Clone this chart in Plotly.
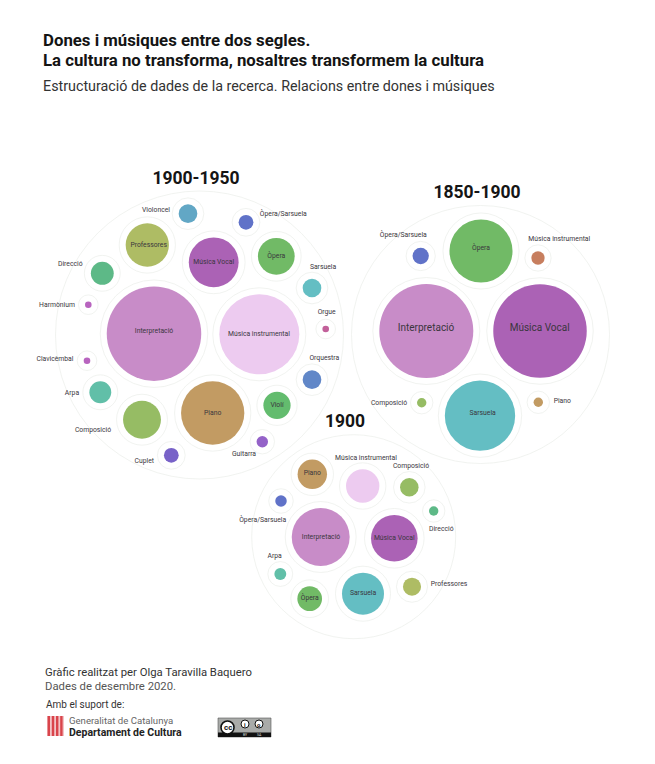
import plotly.graph_objects as go

FONT = "Roboto"

# ---- 1900-1950 ----
a_names = ["Interpretació", "Música instrumental", "Piano", "Música Vocal", "Professores", "Òpera", "Violí",
           "Composició", "Arpa", "Direcció", "Violoncel", "Òpera/Sarsuela", "Sarsuela", "Orgue", "Orquestra",
           "Guitarra", "Cuplet", "Harmònium", "Clavicèmbal"]
a_values = [205, 147, 92, 57, 43, 31, 17, 33, 11, 12, 8, 5, 8, 1, 8, 3, 5, 1, 1]
a_x = [154, 259.3, 212.7, 213.7, 147.3, 276.3, 277, 142, 100.3, 102.3, 188, 246, 312, 325.7, 312, 262.3, 171.3, 88.3, 87]
a_y = [333.7, 334.3, 413, 262.3, 245, 256.3, 405.3, 419.7, 392.3, 273.3, 213.7, 222.3, 288, 329, 379.7, 441.7, 455.3, 304.7, 360.7]
a_colors = ["#C88CC8", "#EDCBF0", "#C29B63", "#AB62B5", "#AEBC64", "#71BA66", "#63BC6E", "#96BC64", "#61BFA8",
            "#5DB987", "#62A7C5", "#6072C8", "#64BEC3", "#C2609A", "#6187C8", "#9462C8", "#7862C8", "#B864BF", "#B864BF"]
a_lx = [154, 259, 212.7, 213.7, 148.7, 276.3, 277, 93, 72, 70.3, 156, 283.3, 323, 326.7, 324.3, 244, 144.3, 57, 55]
a_ly = [331.7, 334.3, 413, 262, 245.7, 256, 405, 430, 393.3, 264.3, 210.3, 214.3, 267.3, 312.3, 358.7, 454.7, 461.7, 305.7, 359]

# ---- 1850-1900 ----
b_names = ["Interpretació", "Música Vocal", "Òpera", "Sarsuela", "Òpera/Sarsuela", "Música instrumental", "Composició", "Piano"]
b_values = [100, 99, 45, 56, 3, 2, 1, 1]
b_x = [426.3, 540, 481, 480, 420.7, 538, 421.7, 538.3]
b_y = [331, 331, 251, 415.7, 256, 258, 402.7, 402.3]
b_colors = ["#C88CC8", "#AB62B5", "#71BA66", "#64BEC3", "#6072C8", "#C77E5E", "#96BC64", "#C29B63"]
b_lx = [426, 539.7, 481, 482.7, 403.3, 559.3, 389, 562.3]
b_ly = [328.3, 328.3, 248.3, 413.3, 235.7, 239, 403, 401]
b_fonts = [10, 10, 6.8, 6.8, 6.8, 6.8, 6.8, 6.8]

# ---- 1900 ----
c_names = ["Interpretació", "Música Vocal", "Sarsuela", "Música instrumental", "Piano", "Composició", "Direcció",
           "Professores", "Òpera", "Arpa", "Òpera/Sarsuela"]
c_values = [38, 24.6, 20, 12.6, 9.8, 3.9, 1, 3.7, 6.9, 1.6, 1.5]
c_x = [320.7, 394.3, 363, 362.7, 312.3, 409.3, 433.7, 412, 309.7, 280.3, 281]
c_y = [537, 538.3, 593.7, 486, 474.3, 487.3, 511, 586.7, 598.7, 574, 501]
c_colors = ["#C88CC8", "#AB62B5", "#64BEC3", "#EDCBF0", "#C29B63", "#96BC64", "#5DB987", "#AEBC64", "#71BA66", "#61BFA8", "#6072C8"]
c_lx = [321, 394.3, 363, 366, 312.3, 411, 441.3, 449, 309.7, 274.7, 262.7]
c_ly = [537, 538, 593, 458, 473.7, 466.7, 529.3, 584.3, 598.3, 556.3, 520.3]

# Enclosing circles and panel headings
panel_titles = ["1900-1950", "1850-1900", "1900"]
panel_tx = [196, 477, 345]
panel_ty = [180, 194, 423]
panel_cx = [199.5, 480.5, 353.7]
panel_cy = [335, 334.5, 536.7]
panel_r = [144, 129, 102]
unit_radius = [3.3, 4.7, 4.7]

# Header / footer text
header_lines = ["Dones i músiques entre dos segles.", "La cultura no transforma, nosaltres transformem la cultura",
                "Estructuració de dades de la recerca. Relacions entre dones i músiques"]
footer_lines = ["Gràfic realitzat per Olga Taravilla Baquero", "Dades de desembre 2020.", "Amb el suport de:"]
logo_lines = ["Generalitat de Catalunya", "Departament de Cultura"]

HALO = 6.5
RING = "rgba(232,235,230,0.6)"

fig = go.Figure()

# enclosing circles
fig.add_trace(go.Scatter(
    x=panel_cx, y=panel_cy, mode="markers", hoverinfo="skip", cliponaxis=False,
    marker=dict(symbol="circle", size=[2 * r for r in panel_r], sizemode="diameter", opacity=1,
                color="rgba(255,255,255,0)", line=dict(color=RING, width=1))))


def add_panel(names, values, xs, ys, colors, lxs, lys, unit, fonts=None):
    diam = [2 * unit * v ** 0.5 for v in values]
    fig.add_trace(go.Scatter(
        x=xs, y=ys, mode="markers", hoverinfo="skip", cliponaxis=False,
        marker=dict(size=[d + 2 * HALO for d in diam], sizemode="diameter", opacity=1,
                    color="rgba(255,255,255,0)", line=dict(color=RING, width=1))))
    fig.add_trace(go.Scatter(
        x=xs, y=ys, mode="markers", text=names, hoverinfo="text", cliponaxis=False,
        marker=dict(size=diam, sizemode="diameter", color=colors, opacity=1, line=dict(width=0))))
    fig.add_trace(go.Scatter(
        x=lxs, y=lys, mode="text", text=names, textposition="middle center", hoverinfo="skip", cliponaxis=False,
        textfont=dict(family=FONT, size=fonts or 6.8, color="#3a363d")))


add_panel(a_names, a_values, a_x, a_y, a_colors, a_lx, a_ly, unit_radius[0])
add_panel(b_names, b_values, b_x, b_y, b_colors, b_lx, b_ly, unit_radius[1], b_fonts)
add_panel(c_names, c_values, c_x, c_y, c_colors, c_lx, c_ly, unit_radius[2])

fig.add_trace(go.Scatter(
    x=panel_tx, y=panel_ty, mode="text", text=panel_titles, textposition="middle center", hoverinfo="skip",
    cliponaxis=False, textfont=dict(family=FONT, size=17.5, color="#151515", weight=700)))

# Generalitat emblem (decorative logo)
shapes = [dict(type="rect", xref="x", yref="y", x0=47, x1=64, y0=716, y1=736,
               fillcolor="#F3C4C6", line_width=0)]
for i in range(4):
    shapes.append(dict(type="rect", xref="x", yref="y", x0=47.6 + i * 4.2, x1=50 + i * 4.2, y0=716, y1=736,
                       fillcolor="#D9444B", line_width=0))
# Creative Commons badge
shapes += [
    dict(type="rect", xref="x", yref="y", x0=218, x1=271, y0=718, y1=737, fillcolor="#A9ABA9",
         line=dict(color="#555", width=0.6)),
    dict(type="rect", xref="x", yref="y", x0=218, x1=271, y0=732.5, y1=737, fillcolor="#111111", line_width=0),
    dict(type="circle", xref="x", yref="y", x0=221, x1=234, y0=721, y1=734, fillcolor="white",
         line=dict(color="#111", width=1.6)),
    dict(type="circle", xref="x", yref="y", x0=241, x1=249, y0=720, y1=728, fillcolor="white",
         line=dict(color="#111", width=1)),
    dict(type="circle", xref="x", yref="y", x0=255, x1=263, y0=720, y1=728, fillcolor="white",
         line=dict(color="#111", width=1)),
]


def note(x, y, text, size, color="#222", weight=400, anchor="left"):
    return dict(x=x, y=y, xref="x", yref="y", text=text, showarrow=False, xanchor=anchor, yanchor="middle",
                font=dict(family=FONT, size=size, color=color, weight=weight))


annotations = [
    note(41, 40, header_lines[0], 16.8, "#141414", 700),
    note(41, 60, header_lines[1], 16.8, "#141414", 700),
    note(41, 86, header_lines[2], 14.3, "#333"),
    note(43, 672, footer_lines[0], 11.3, "#333"),
    note(43, 686, footer_lines[1], 11.3, "#555"),
    note(44, 704, footer_lines[2], 10, "#333"),
    note(67, 720, logo_lines[0], 9.6, "#666"),
    note(67, 732.5, logo_lines[1], 10.5, "#222", 700),
    note(227.5, 727.5, "cc", 8, "#111", 700, "center"),
    note(245, 724, "i", 6, "#111", 700, "center"),
    note(259, 724, "o", 6, "#111", 700, "center"),
    note(245, 735, "BY", 3.5, "#ddd", 400, "center"),
    note(259, 735, "SA", 3.5, "#ddd", 400, "center"),
]

fig.update_layout(
    width=655, height=764, margin=dict(l=0, r=0, t=0, b=0), showlegend=False,
    paper_bgcolor="white", plot_bgcolor="white",
    xaxis=dict(range=[0, 655], visible=False, fixedrange=True),
    yaxis=dict(range=[764, 0], visible=False, fixedrange=True),
    shapes=shapes, annotations=annotations, font=dict(family=FONT))

fig.write_html("out.html", config={"displayModeBar": False},
               post_script="document.body.style.margin='0';document.documentElement.style.overflow='hidden';")
